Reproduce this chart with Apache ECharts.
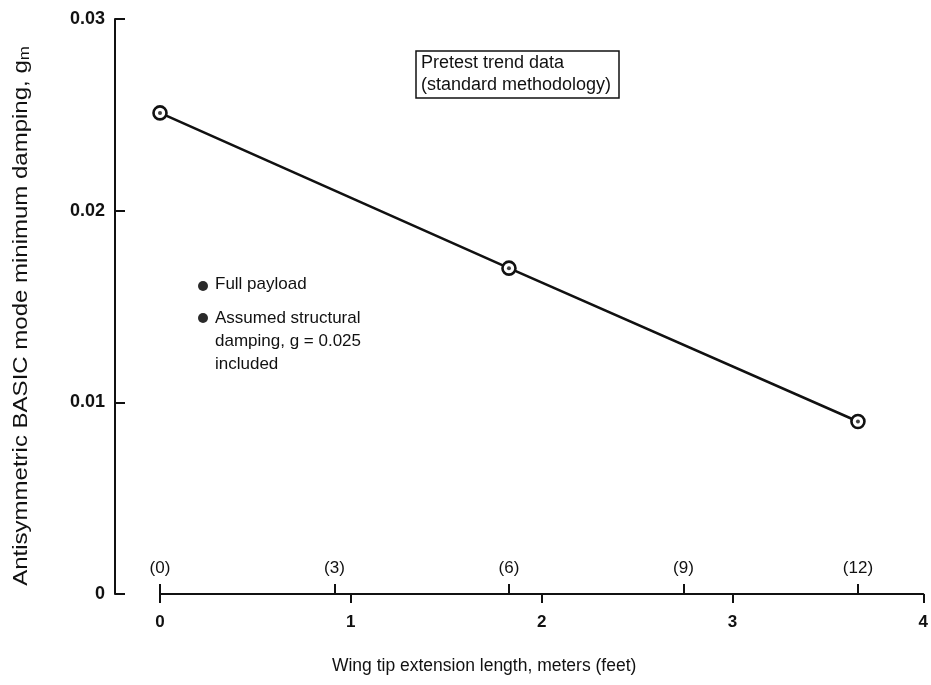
<!DOCTYPE html>
<html>
<head>
<meta charset="utf-8">
<script src="https://cdn.jsdelivr.net/npm/echarts@6/dist/echarts.min.js"></script>
<style>
  html, body { margin: 0; padding: 0; background: #fff; }
  #chart { width: 931px; height: 685px; }
</style>
</head>
<body>
<div id="chart"></div>
<script>
// Wing tip extension length in feet and the resulting minimum damping
const extensionFeet = [0, 6, 12];
const minDamping = [0.0251, 0.0170, 0.0090];

// Axis ticks
const meterTicks = [0, 1, 2, 3, 4];
const feetTicks = [0, 3, 6, 9, 12];
const dampingTicks = [0, 0.01, 0.02, 0.03];

const FT_TO_M = 0.3048;
const FONT = '"Liberation Sans", Arial, sans-serif';
const INK = '#111';

const points = extensionFeet.map((ft, i) => [ft * FT_TO_M, minDamping[i]]);
const feetAsMeters = feetTicks.map(ft => ft * FT_TO_M);

const chart = echarts.init(document.getElementById('chart'), null, { renderer: 'canvas' });

chart.setOption({
  backgroundColor: '#fff',
  animation: false,
  grid: { left: 160, right: 5, top: 19, bottom: 91 },
  xAxis: [
    {
      type: 'value',
      position: 'bottom',
      min: meterTicks[0],
      max: meterTicks[meterTicks.length - 1],
      interval: 1,
      axisLine: { show: true, onZero: false, lineStyle: { color: INK, width: 2 } },
      axisTick: { show: true, inside: false, length: 9, lineStyle: { color: INK, width: 2 } },
      axisLabel: {
        color: INK, fontFamily: FONT, fontSize: 17, fontWeight: 'bold', margin: 20,
        formatter: v => String(v)
      },
      splitLine: { show: false },
      name: 'Wing tip extension length, meters (feet)',
      nameLocation: 'middle',
      nameGap: 63,
      nameMoveOverlap: false,
      nameTextStyle: { color: INK, fontFamily: FONT, fontSize: 17.5, padding: [0, 115, 0, 0] }
    },
    {
      type: 'value',
      position: 'bottom',
      min: meterTicks[0],
      max: meterTicks[meterTicks.length - 1],
      axisLine: { show: false, onZero: false },
      axisTick: {
        show: true, inside: true, length: 10,
        customValues: feetAsMeters,
        lineStyle: { color: INK, width: 2 }
      },
      axisLabel: {
        show: true, inside: true, margin: 17,
        customValues: feetAsMeters,
        color: INK, fontFamily: FONT, fontSize: 17,
        formatter: v => '(' + Math.round(v / FT_TO_M) + ')'
      },
      splitLine: { show: false }
    }
  ],
  yAxis: {
    type: 'value',
    min: dampingTicks[0],
    max: dampingTicks[dampingTicks.length - 1],
    interval: 0.01,
    offset: 45,
    axisLine: { show: true, onZero: false, lineStyle: { color: INK, width: 2 } },
    axisTick: { show: true, inside: true, length: 10, lineStyle: { color: INK, width: 2 } },
    axisLabel: {
      color: INK, fontFamily: FONT, fontSize: 18, fontWeight: 'bold', margin: 10,
      formatter: v => (v === 0 ? '0' : v.toFixed(2))
    },
    splitLine: { show: false }
  },
  series: [
    {
      type: 'line',
      xAxisIndex: 0,
      data: points,
      symbol: 'circle',
      symbolSize: 13,
      lineStyle: { color: INK, width: 2.6 },
      itemStyle: { color: '#fff', borderColor: INK, borderWidth: 2.6 },
      z: 3
    },
    {
      type: 'scatter',
      xAxisIndex: 0,
      data: points,
      symbol: 'circle',
      symbolSize: 4,
      itemStyle: { color: INK },
      silent: true,
      z: 4
    }
  ],
  graphic: [
    // vertical axis title, widely tracked along the axis
    {
      type: 'text',
      x: 21, y: 316,
      rotation: Math.PI / 2,
      scaleX: 1.2,
      style: {
        text: '{t|Antisymmetric BASIC mode minimum damping, g}{s|m}',
        align: 'center',
        verticalAlign: 'middle',
        rich: {
          t: { fill: INK, fontFamily: FONT, fontSize: 20 },
          s: { fill: INK, fontFamily: FONT, fontSize: 14, verticalAlign: 'bottom', padding: [8, 0, 0, 0] }
        }
      }
    },
    {
      type: 'rect',
      shape: { x: 416, y: 51, width: 203, height: 47 },
      style: { fill: '#fff', stroke: INK, lineWidth: 1.5 }
    },
    {
      type: 'text', left: 421, top: 52,
      style: { text: 'Pretest trend data\n(standard methodology)', fill: INK, font: '18px ' + FONT, lineHeight: 22 }
    },
    { type: 'circle', shape: { cx: 203, cy: 286, r: 5 }, style: { fill: '#2a2a2a' } },
    { type: 'circle', shape: { cx: 203, cy: 318, r: 5 }, style: { fill: '#2a2a2a' } },
    {
      type: 'text', left: 215, top: 276,
      style: { text: 'Full payload', fill: INK, font: '17px ' + FONT }
    },
    {
      type: 'text', left: 215, top: 307,
      style: { text: 'Assumed structural\ndamping, g = 0.025\nincluded', fill: INK, font: '17px ' + FONT, lineHeight: 23 }
    }
  ]
});
</script>
</body>
</html>
